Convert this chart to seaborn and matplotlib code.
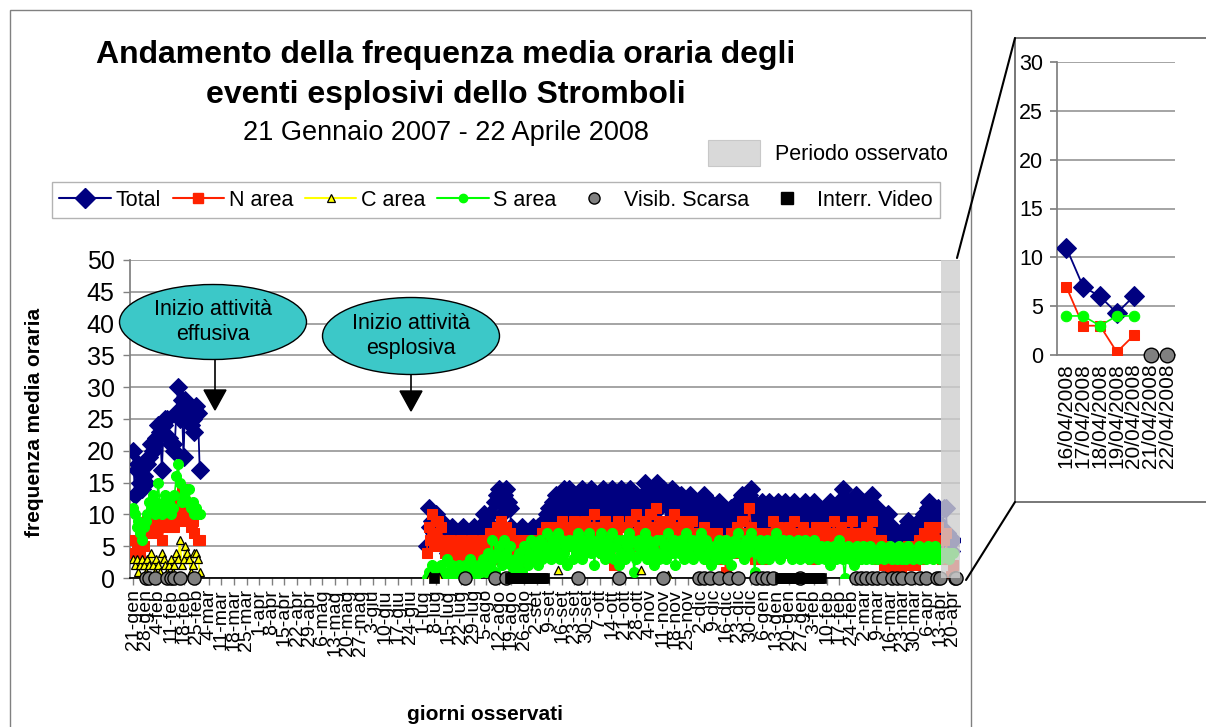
import numpy as np
import pandas as pd
import matplotlib
matplotlib.use("Agg")
import matplotlib.pyplot as plt
import seaborn as sns
from matplotlib.patches import Ellipse, Rectangle, Polygon
from matplotlib.lines import Line2D

nan = np.nan

# ---------------- DATA ----------------
# day index 0 = 21 Jan 2007 ... 457 = 22 Apr 2008
N_DAYS = 458
START_A = 0      # first observed period (21 gen - 27 feb 2007)
START_B = 163    # second observed period (3 lug 2007 - 22 apr 2008)

total_a = [20, 13, 17, 18, 15, 14, 16, 15, 18, 19,
           21, 20, 21, 22, 24, 23, 17, 24, 25, 25,
           22, 21, 21, 20, 26, 30, 25, 28, 19, 28,
           26, 27, 24, 25, 23, 27, 26, 17]
n_a = [6, 4, 5, 5, 4, 6, 5, 7, 9, 8,
       8, 10, 7, 9, 8, 9, 6, 8, 9, 10,
       9, 8, 9, 8, 10, 12, 11, 14, 9, 12,
       10, 11, 8, 9, 7, 10, 6, 6]
c_a = [3, 2, 3, 1, 2, 3, 2, 1, 3, 2,
       4, 2, 1, 3, 2, 1, 4, 3, 2, 1,
       2, 3, 1, 2, 4, 3, 6, 2, 3, 5,
       4, 3, 1, 2, 4, 4, 3, 1]
s_a = [11, 10, 8, 9, 7, 6, 8, 9, 10, 12,
       11, 13, 10, 12, 15, 11, 10, 12, 13, 11,
       12, 10, 11, 13, 16, 18, 15, 12, 13, 14,
       12, 14, 11, 12, 10, 11, 10, 10]

total_b = [5, 11, 8, 9, 7, 10, 8, 6, 9, 7,
           5, 6, 4, 7, 8, 5, 6, 7, 5, 6,
           8, 7, 5, 6, 4, 7, 8, 6, 5, 7,
           6, 8, 10, 9, 7, 10, 6, 5, 12, 13,
           14, 12, 10, 13, 14, 12, 11, 8, 6, 5,
           7, 6, 5, 8, 6, 7, 5, 4, 6, 8,
           7, 6, 8, 5, 7, 9, 8, 10, 11, 9,
           12, 10, 13, 11, 8, 12, 14, 10, 12, 14,
           11, 13, 9, 10, 13, 12, 14, 8, 13, 10,
           12, 14, 13, 9, 12, 10, 13, 12, 14, 11,
           13, 8, 10, 14, 12, 13, 11, 9, 14, 10,
           12, 13, 11, 14, 8, 10, 13, 11, 12, 9,
           13, 15, 12, 10, 14, 9, 13, 12, 15, 11,
           12, 14, 13, 8, 12, 11, 14, 12, 9, 13,
           11, 13, 10, 12, 9, 11, 13, 7, 12, 8,
           10, 12, 9, 11, 13, 8, 10, 12, 9, 11,
           7, 10, 12, 9, 11, 8, 10, 7, 9, 11,
           8, 10, 9, 12, 11, 13, 10, 12, 9, 13,
           14, 12, 11, 9, 10, 8, 12, 10, 11, 9,
           12, 10, 8, 11, 9, 12, 10, 11, 9, 12,
           10, 8, 11, 9, 12, 10, 9, 11, 8, 10,
           12, 9, 11, 10, 8, 12, 9, 10, 11, 9,
           8, 10, 11, 9, 12, 10, 8, 11, 9, 12,
           10, 14, 11, 9, 12, 10, 8, 11, 13, 12,
           11, 9, 12, 10, 9, 11, 12, 13, 10, 8,
           11, 9, 10, 8, 9, 7, 10, 6, 8, 5,
           4, 6, 5, 3, 7, 5, 8, 9, 7, 6,
           8, 5, 7, 9, 6, 8, 10, 9, 11, 12,
           8, 10, 7, 9, 11, 8, 6, 11,
           11, 7, 6, 4.3, 6, nan, nan]
n_b = [4, 8, 6, 10, 5, 7, 9, 6, 8, 5,
       4, 3, 5, 6, 2, 4, 5, 3, 4, 6,
       5, 3, 4, 2, 5, 6, 3, 4, 2, 5,
       4, 6, 5, 3, 5, 7, 4, 3, 6, 8,
       7, 9, 6, 5, 8, 6, 7, 4, 3, 5,
       4, 6, 3, 5, 2, 4, 6, 3, 5, 4,
       6, 3, 5, 4, 7, 6, 8, 5, 7, 6,
       7, 5, 8, 6, 4, 9, 7, 5, 8, 6,
       5, 7, 9, 6, 8, 4, 6, 7, 9, 5,
       8, 6, 7, 10, 5, 7, 8, 6, 4, 9,
       7, 6, 8, 5, 2, 7, 9, 6, 8, 5,
       6, 8, 7, 9, 5, 6, 10, 7, 8, 6,
       7, 9, 6, 8, 10, 7, 5, 11, 8, 6,
       9, 7, 5, 8, 6, 9, 7, 10, 6, 8,
       5, 7, 9, 6, 4, 8, 6, 9, 7, 5,
       6, 4, 7, 5, 8, 6, 3, 7, 5, 6,
       4, 7, 5, 6, 3, 5, 1, 6, 4, 7,
       5, 6, 8, 4, 7, 9, 5, 6, 7, 11,
       8, 6, 3, 5, 7, 4, 6, 5, 3, 7,
       5, 7, 9, 6, 4, 8, 5, 7, 6, 4,
       6, 8, 5, 7, 9, 6, 4, 7, 5, 8,
       6, 4, 7, 5, 3, 6, 8, 5, 7, 4,
       6, 8, 5, 7, 4, 6, 9, 5, 7, 6,
       8, 7, 5, 6, 4, 7, 9, 5, 6, 3,
       5, 7, 4, 6, 8, 5, 7, 9, 6, 4,
       5, 3, 6, 4, 2, 5, 3, 1, 4, 2,
       1, 3, 2, 0.5, 4, 2, 3, 5, 2, 4,
       3, 2, 4, 6, 3, 5, 7, 4, 6, 8,
       5, 7, 4, 6, 8, 4, 3, 6,
       7, 3, 3, 0.3, 2, nan, nan]
s_b = [0, 1, 0.5, 2, 1, 0, 1, 0.5, 2, 1,
       0.5, 3, 1, 0, 2, 1, 0.5, 1, 2, 0,
       1, 2, 0.5, 1, 3, 1, 2, 0, 1, 2,
       1, 3, 2, 1, 4, 2, 6, 3, 1, 4,
       5, 3, 2, 6, 4, 3, 5, 2, 1, 3,
       2, 4, 3, 1, 5, 3, 2, 4, 6, 3,
       5, 4, 2, 6, 3, 5, 4, 7, 5, 3,
       6, 4, 5, 7, 3, 6, 4, 5, 2, 6,
       5, 3, 6, 4, 7, 5, 3, 6, 4, 5,
       7, 4, 6, 2, 5, 6, 4, 7, 5, 3,
       6, 4, 5, 7, 3, 5, 6, 2, 4, 6,
       3, 5, 7, 4, 6, 1, 3, 5, 6, 4,
       5, 7, 3, 6, 4, 5, 2, 4, 6, 3,
       6, 4, 5, 3, 7, 5, 4, 6, 2, 5,
       4, 6, 5, 3, 7, 4, 5, 6, 3, 5,
       6, 4, 7, 5, 3, 6, 4, 5, 2, 4,
       5, 3, 6, 4, 5, 3, 6, 4, 5, 2,
       4, 6, 5, 7, 4, 5, 3, 6, 4, 5,
       7, 6, 1, 4, 5, 6, 3, 5, 4, 6,
       3, 5, 6, 4, 7, 5, 3, 4, 6, 5,
       4, 6, 5, 3, 5, 4, 6, 3, 5, 4,
       6, 4, 3, 5, 4, 6, 5, 3, 4, 5,
       4, 3, 5, 4, 2, 4, 5, 3, 4, 6,
       5, 3, 0, 4, 5, 3, 4, 2, 4, 5,
       4, 3, 5, 4, 3, 4, 5, 3, 4, 4,
       3, 4, 5, 4, 3, 4, 4, 5, 3, 4,
       4, 3, 5, 4, 3, 4, 3, 5, 4, 4,
       3, 4, 4, 5, 3, 4, 4, 3, 5, 4,
       4, 3, 5, 4, 4, 3, 4, 4,
       4, 4, 3, 4, 4, nan, nan]
c_b_days = [165, 170, 236, 282, 297]
c_b_vals = [0.3, 0.2, 1.2, 1.2, 0.4]

visib_days = [7, 9, 12, 19, 21, 23, 26, 34,
              184, 201, 207, 247, 270, 294, 314, 317, 320, 325, 331, 336,
              346, 349, 352, 355, 370, 401, 404, 407, 410, 413, 416, 421,
              424, 427, 432, 437, 440, 446, 448, 456, 457]
video_days = [167] + list(range(209, 229)) + list(range(359, 370)) + list(range(372, 383))

tick_days = list(range(0, 456, 7))
tick_labels = ["21-gen", "28-gen", "4-feb", "11-feb", "18-feb", "25-feb", "4-mar", "11-mar",
               "18-mar", "25-mar", "1-apr", "8-apr", "15-apr", "22-apr", "29-apr", "6-mag",
               "13-mag", "20-mag", "27-mag", "3-giu", "10-giu", "17-giu", "24-giu", "1-lug",
               "8-lug", "15-lug", "22-lug", "29-lug", "5-ago", "12-ago", "19-ago", "26-ago",
               "2-set", "9-set", "16-set", "23-set", "30-set", "7-ott", "14-ott", "21-ott",
               "28-ott", "4-nov", "11-nov", "18-nov", "25-nov", "2-dic", "9-dic", "16-dic",
               "23-dic", "30-dic", "6-gen", "13-gen", "20-gen", "27-gen", "3-feb", "10-feb",
               "17-feb", "24-feb", "2-mar", "9-mar", "16-mar", "23-mar", "30-mar", "6-apr",
               "13-apr", "20-apr"]
inset_labels = ["16/04/2008", "17/04/2008", "18/04/2008", "19/04/2008",
                "20/04/2008", "21/04/2008", "22/04/2008"]
INSET_START = 451
band_days = (448.6, 459)

assert len(total_a) == len(n_a) == len(c_a) == len(s_a) == 38
assert len(total_b) == len(n_b) == len(s_b) == N_DAYS - START_B, (len(total_b), len(n_b), len(s_b))

# ---------------- TABLE ----------------
def full(a_vals, b_vals):
    arr = np.full(N_DAYS, np.nan)
    arr[START_A:START_A + len(a_vals)] = a_vals
    if b_vals is not None:
        arr[START_B:START_B + len(b_vals)] = b_vals
    return arr

df = pd.DataFrame({"day": np.arange(N_DAYS),
                   "total": full(total_a, total_b),
                   "n": full(n_a, n_b),
                   "c": full(c_a, None),
                   "s": full(s_a, s_b)})
segments = [(START_A, START_A + len(total_a)), (START_B, N_DAYS)]

# ---------------- STYLE ----------------
sns.set_theme(style="white")
plt.rcParams['font.family'] = ['Liberation Sans', 'DejaVu Sans']
plt.rcParams['text.color'] = 'black'
plt.rcParams['axes.labelcolor'] = 'black'
plt.rcParams['xtick.color'] = 'black'
plt.rcParams['ytick.color'] = 'black'

NAVY = '#000080'
RED = '#FF2200'
YEL = '#FFFF00'
LIME = '#00FF00'
GRAY = '#808080'
TEAL = '#3CC8C8'

W, H = 1206, 727
def fx(x): return x / W
def fy(y): return 1 - y / H

fig = plt.figure(figsize=(12.06, 7.27), dpi=100)
fig.patch.set_facecolor('white')

ax = fig.add_axes([fx(130), fy(578), fx(960) - fx(130), (578 - 260) / H])

series_styles = {
    "total": dict(color=NAVY, linewidth=1.3, marker='D', markersize=9.5,
                  markeredgecolor=NAVY, markerfacecolor=NAVY, zorder=3),
    "n": dict(color=RED, linewidth=1.3, marker='s', markersize=7.2,
              markeredgecolor=RED, markerfacecolor=RED, zorder=4),
    "c": dict(color=YEL, linewidth=1.3, marker='^', markersize=6,
              markeredgecolor='black', markerfacecolor=YEL, markeredgewidth=0.9, zorder=5),
    "s": dict(color=LIME, linewidth=1.2, marker='o', markersize=7.2,
              markeredgecolor=LIME, markerfacecolor=LIME, zorder=5),
}

for col in ["total", "n", "s", "c"]:
    for lo, hi in segments:
        sub = df.iloc[lo:hi]
        if sub[col].notna().sum() == 0:
            continue
        sns.lineplot(data=sub, x="day", y=col, ax=ax, estimator=None, errorbar=None,
                     legend=False, **series_styles[col])

sns.scatterplot(x=c_b_days, y=c_b_vals, ax=ax, marker='^', s=36, color=YEL,
                edgecolor='black', linewidth=0.9, zorder=5, legend=False)
sns.scatterplot(x=visib_days, y=[0] * len(visib_days), ax=ax, marker='o', s=90,
                color=GRAY, edgecolor='black', linewidth=1, zorder=6, legend=False,
                clip_on=False)
sns.scatterplot(x=video_days, y=[0] * len(video_days), ax=ax, marker='s', s=60,
                color='black', edgecolor='black', linewidth=0.5, zorder=6, legend=False,
                clip_on=False)

ax.axvspan(band_days[0], band_days[1], color='#cfcfcf', alpha=0.8, lw=0, zorder=8)

ax.set_xlim(-1.7, 459)
ax.set_ylim(0, 50)
ax.set_yticks(range(0, 51, 5))
ax.set_yticklabels([str(v) for v in range(0, 51, 5)], fontsize=18)
ax.set_xticks(tick_days)
ax.set_xticklabels(tick_labels, rotation=90, fontsize=14)
ax.set_xlabel('')
ax.set_ylabel('')
ax.yaxis.grid(True, color='#8c8c8c', lw=1.1)
ax.xaxis.grid(False)
ax.set_axisbelow(True)
for sp in ['top', 'right']:
    ax.spines[sp].set_visible(False)
ax.spines['left'].set_color('#808080')
ax.spines['bottom'].set_color('black')
ax.tick_params(axis='x', direction='out', length=5, width=1, color='#808080', pad=3,
               bottom=True, labelcolor='black')
ax.tick_params(axis='y', direction='out', length=5, width=1, color='#808080', pad=6,
               left=True, labelcolor='black')

# ---------------- INSET ----------------
ax2 = fig.add_axes([fx(1057), fy(355), fx(1175) - fx(1057), (355 - 62) / H])
ins = df.iloc[INSET_START:INSET_START + 7].copy()
ins["pos"] = np.arange(len(ins))
for col in ["total", "n", "s"]:
    st = dict(series_styles[col])
    st["markersize"] = st["markersize"] * 1.05
    sns.lineplot(data=ins.dropna(subset=[col]), x="pos", y=col, ax=ax2, estimator=None,
                 errorbar=None, legend=False, **st)
ins_vis = [d - INSET_START for d in visib_days if INSET_START <= d < INSET_START + 7]
sns.scatterplot(x=ins_vis, y=[0] * len(ins_vis), ax=ax2, marker='o', s=110, color=GRAY,
                edgecolor='black', linewidth=1, zorder=6, legend=False, clip_on=False)
ax2.set_xlim(-0.55, 6.45)
ax2.set_ylim(0, 30)
ax2.set_yticks(range(0, 31, 5))
ax2.set_yticklabels([str(v) for v in range(0, 31, 5)], fontsize=15.5)
ax2.set_xticks(range(7))
ax2.set_xticklabels(inset_labels, rotation=90, fontsize=15)
ax2.set_xlabel('')
ax2.set_ylabel('')
ax2.yaxis.grid(True, color='#8c8c8c', lw=1.1)
ax2.xaxis.grid(False)
ax2.set_axisbelow(True)
for sp in ['top', 'right']:
    ax2.spines[sp].set_visible(False)
ax2.spines['left'].set_color('#808080')
ax2.spines['bottom'].set_color('#808080')
ax2.tick_params(axis='x', length=0, pad=6, labelcolor='black')
ax2.tick_params(axis='y', direction='out', length=5, color='#808080', pad=5, left=True,
                labelcolor='black')

# ---------------- TEXTS ----------------
fig.text(fx(446), fy(55), "Andamento della frequenza media oraria degli", ha='center',
         va='center', fontsize=23, fontweight='bold')
fig.text(fx(446), fy(95), "eventi esplosivi dello Stromboli", ha='center', va='center',
         fontsize=23, fontweight='bold')
fig.text(fx(446), fy(133), "21 Gennaio 2007 - 22 Aprile 2008", ha='center', va='center',
         fontsize=19.5)
fig.text(fx(35), fy(422), "frequenza media oraria", rotation=90, ha='center', va='center',
         fontsize=15, fontweight='bold')
fig.text(fx(485), fy(715), "giorni osservati", ha='center', va='center', fontsize=15,
         fontweight='bold')

# Periodo osservato key
fig.add_artist(Rectangle((fx(708), fy(166)), fx(760) - fx(708), (166 - 140) / H,
                         transform=fig.transFigure, facecolor='#d9d9d9',
                         edgecolor='#c8c8c8', lw=0.8))
fig.text(fx(775), fy(154), "Periodo osservato", ha='left', va='center', fontsize=15.5)

# Legend
handles = [
    Line2D([], [], color=NAVY, lw=1.5, marker='D', ms=10, mec=NAVY, mfc=NAVY),
    Line2D([], [], color=RED, lw=1.5, marker='s', ms=6.5, mec=RED, mfc=RED),
    Line2D([], [], color=YEL, lw=1.5, marker='^', ms=5.5, mec='black', mfc=YEL, mew=0.9),
    Line2D([], [], color=LIME, lw=1.5, marker='o', ms=6, mec=LIME, mfc=LIME),
    Line2D([], [], color='none', marker='o', ms=8, mec='black', mfc=GRAY),
    Line2D([], [], color='none', marker='s', ms=8, mec='black', mfc='black'),
]
labels = ["Total", "N area", "C area", "S area", "Visib. Scarsa", "Interr. Video"]
leg = fig.legend(handles, labels, loc='center', bbox_to_anchor=(fx(496), fy(200)), ncol=6,
                 frameon=True, fontsize=15.5, handlelength=2.4, handletextpad=0.2,
                 columnspacing=0.55, borderpad=0.35, fancybox=False)
leg.get_frame().set_edgecolor('#a0a0a0')
leg.get_frame().set_linewidth(1)

# Annotation bubbles and arrows
for (cx, cy, w, h, txt, ax_x, y0, y1) in [
        (213, 322, 187, 75, "Inizio attività\neffusiva", 215, 360, 390),
        (411, 336, 177, 77, "Inizio attività\nesplosiva", 411, 375, 391)]:
    fig.add_artist(Ellipse((fx(cx), fy(cy)), w / W, h / H, transform=fig.transFigure,
                           facecolor=TEAL, edgecolor='black', lw=1))
    fig.text(fx(cx), fy(cy), txt, ha='center', va='center', fontsize=15.5,
             linespacing=1.3)
    fig.add_artist(Line2D([fx(ax_x), fx(ax_x)], [fy(y0), fy(y1)],
                          transform=fig.transFigure, color='black', lw=1.2))
    fig.add_artist(Polygon([(fx(ax_x - 11), fy(y1)), (fx(ax_x + 11), fy(y1)),
                            (fx(ax_x), fy(y1 + 20))], closed=True,
                           transform=fig.transFigure, facecolor='black',
                           edgecolor='black'))

# Borders and zoom connector lines
fig.add_artist(Rectangle((fx(10), -0.01), fx(971) - fx(10), fy(10) + 0.01,
                         transform=fig.transFigure, fill=False, edgecolor='#808080', lw=1))
fig.add_artist(Rectangle((fx(1015), fy(502)), fx(1215) - fx(1015), (502 - 38) / H,
                         transform=fig.transFigure, fill=False, edgecolor='#606060', lw=1.2))
fig.add_artist(Line2D([fx(957), fx(1015)], [fy(258), fy(38)], transform=fig.transFigure,
                      color='black', lw=1.5))
fig.add_artist(Line2D([fx(966), fx(1015)], [fy(580), fy(502)], transform=fig.transFigure,
                      color='black', lw=1.5))

fig.savefig("out.png", dpi=100, facecolor='white')
